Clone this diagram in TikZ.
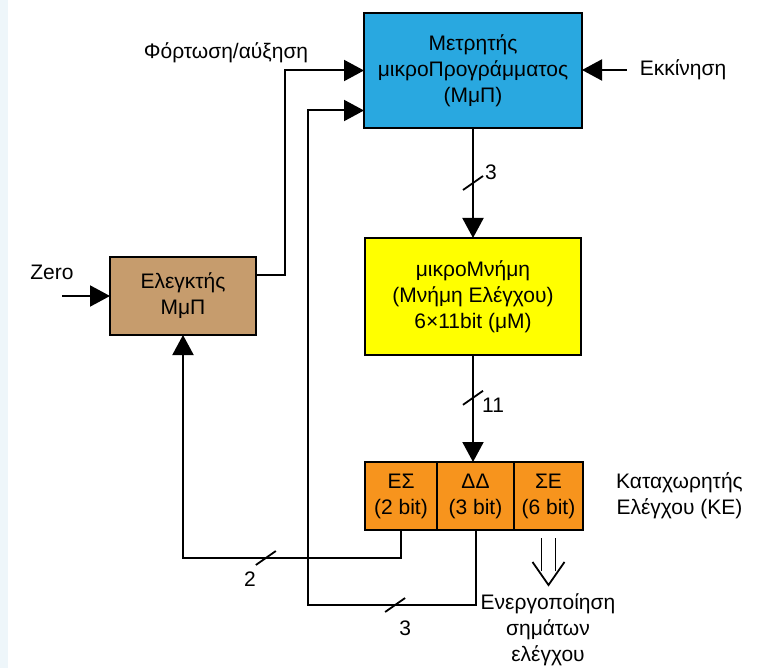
\documentclass[tikz,border=0pt]{standalone}
\usepackage{fontspec}
\setmainfont{Liberation Sans}
\usetikzlibrary{positioning, arrows.meta, calc}
\usepackage{xcolor}
\definecolor{cntblue}{RGB}{41,168,224}
\definecolor{ctrlbrown}{RGB}{198,156,109}
\definecolor{memyellow}{RGB}{255,255,0}
\definecolor{regorange}{RGB}{247,148,29}
\definecolor{edgeblue}{RGB}{238,246,250}

\begin{document}
\begin{tikzpicture}[
  x=1pt, y=-1pt,
  font=\fontsize{21}{26}\selectfont, >={Triangle[length=20pt,width=21pt]},
  box/.style={draw, line width=2pt, align=center, inner sep=0pt, outer sep=0pt},
  counter/.style={box, fill=cntblue, minimum width=218pt, minimum height=115pt},
  ctrlbox/.style={box, fill=ctrlbrown, minimum width=146pt, minimum height=78pt},
  mem/.style={box, fill=memyellow, minimum width=216pt, minimum height=117pt},
  cell/.style={box, fill=regorange, minimum height=68pt},
  lbl/.style={inner sep=0pt, align=center},
  flow/.style={->, line width=2pt},
  wire/.style={line width=1.8pt},
  slash/.style={line width=1.8pt},
]
\useasboundingbox (0,0) rectangle (776,668);
\fill[edgeblue] (0,0) rectangle (8,668);
% ---- boxes ----
\node[counter] (cnt) at (473,70.5) {Μετρητής\\μικροΠρογράμματος\\(ΜμΠ)};
\node[mem, below=110pt of cnt] (mem) {μικροΜνήμη\\(Μνήμη Ελέγχου)\\6×11bit (μΜ)};
\node[ctrlbox] (ctrl) at (183,296) {Ελεγκτής\\ΜμΠ};
% ---- control register ----
\node[cell, minimum width=72pt, anchor=north west] (es) at ([yshift=-107pt]mem.south west) {ΕΣ\\(2 bit)};
\node[cell, minimum width=77pt, right=0pt of es] (dd) {ΔΔ\\(3 bit)};
\node[cell, minimum width=69pt, right=0pt of dd] (se) {ΣΕ\\(6 bit)};
% ---- labels ----
\node[lbl, right=33pt of se] (kelbl) {Καταχωρητής\\Ελέγχου (ΚΕ)};
\node[lbl] (sig) at (548,630) {Ενεργοποίηση\\σημάτων\\ελέγχου};
\node[lbl] (start) at (683,70) {Εκκίνηση};
\node[lbl] (load) at (226,53) {Φόρτωση/αύξηση};
\node[lbl] (zero) at (52,272) {Zero};
\coordinate (zin) at (62,296);
% ---- edges ----
\draw[flow] ([xshift=-13pt]start.west) -- (cnt.east |- start);
\draw[flow] (zin) -- (ctrl.west);
\draw[flow] ([yshift=21pt]ctrl.east) -- ++(29pt,0) |- (cnt.west);
\draw[flow] (cnt.south) -- (cnt.south |- mem.north);
\draw[flow] (mem.south) -- (mem.south |- dd.north);
\path (es.south) ++(0,-28pt) coordinate (esb);
\draw[flow] (es.south) -- (esb) -| (ctrl.south);
\path (dd.south) ++(0,-75pt) coordinate (ddb);
\coordinate (ddl) at ([xshift=-56pt]cnt.west |- ddb);
\draw[flow] (dd.south) -- (ddb) -- (ddl) |- ([yshift=-40pt]cnt.west);
% ---- bus widths ----
\coordinate (b1) at ($(cnt.south)!0.5!(cnt.south |- mem.north)$);
\draw[slash] (b1) ++(-10pt,-7pt) -- ++(20pt,14pt);
\node[lbl] at ([xshift=18pt,yshift=11pt]b1) {3};
\coordinate (b2) at ($(mem.south)!0.4!(mem.south |- dd.north)$);
\draw[slash] (b2) ++(-10pt,-7pt) -- ++(20pt,14pt);
\node[lbl, anchor=west] at ([xshift=9pt,yshift=-7pt]b2) {11};
\coordinate (b3) at ($(esb)!0.62!(ctrl.south |- esb)$);
\draw[slash] (b3) ++(-10pt,-7pt) -- ++(20pt,14pt);
\node[lbl] at ([xshift=-16pt,yshift=-21pt]b3) {2};
\coordinate (b4) at ($(ddb)!0.48!(ddl)$);
\draw[slash] (b4) ++(-10pt,-7pt) -- ++(20pt,14pt);
\node[lbl] at ([xshift=10pt,yshift=-23pt]b4) {3};
% ---- control signals out ----
\draw[wire] ([xshift=-7pt,yshift=-8pt]se.south) -- ++(0,-33pt);
\draw[wire] ([xshift=7pt,yshift=-8pt]se.south) -- ++(0,-33pt);
\draw[wire] ([xshift=-16pt,yshift=-32pt]se.south) -- ([yshift=-55pt]se.south) -- ([xshift=16pt,yshift=-32pt]se.south);
\end{tikzpicture}
\end{document}
